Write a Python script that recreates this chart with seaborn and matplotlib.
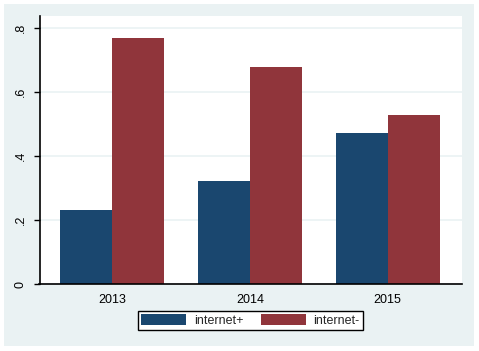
import matplotlib
matplotlib.use("Agg")
import matplotlib.pyplot as plt
import seaborn as sns
import pandas as pd
from matplotlib.patches import Rectangle

years = ["2013", "2014", "2015"]
series = ["internet+", "internet-"]
internet_plus = [0.231, 0.322, 0.472]
internet_minus = [0.769, 0.678, 0.528]
yticks = [0, 0.2, 0.4, 0.6, 0.8]
ytick_labels = ["0", ".2", ".4", ".6", ".8"]

df = pd.DataFrame({
    "year": years * 2,
    "series": [series[0]] * 3 + [series[1]] * 3,
    "value": internet_plus + internet_minus,
})

sns.set_theme(style="white")
plt.rcParams["font.family"] = ["Liberation Sans", "DejaVu Sans"]

W, H = 479, 351
fig = plt.figure(figsize=(W / 100, H / 100), dpi=100, facecolor="white")
bg = Rectangle((4 / W, (H - 346) / H), 470 / W, 342 / H, transform=fig.transFigure,
               facecolor="#EAF2F3", edgecolor="none", zorder=-10)
fig.patches.append(bg)

ax = fig.add_axes([39.5 / W, (H - 284) / H, (462 - 39.5) / W, (284 - 16) / H])
ax.set_facecolor("white")
ax.set_zorder(1)

colors = ["#1A476F", "#90353B"]
sns.barplot(data=df, x="year", y="value", hue="series", palette=colors,
            saturation=1, width=0.756, gap=0, ax=ax, legend=False, linewidth=0)

ax.set_xlim(-0.527, 2.54)
ax.set_ylim(0, 0.8375)
ax.set_yticks(yticks)
ax.set_yticklabels(ytick_labels, rotation=90, va="center", fontsize=9, color="black")
ax.tick_params(axis="y", length=4, width=1, color="black", pad=5, left=True)
ax.tick_params(axis="x", length=0, pad=7, labelsize=9, labelcolor="black")
ax.set_xlabel("")
ax.set_ylabel("")
ax.yaxis.grid(True, color="#EAF2F3", linewidth=1.2)
ax.set_axisbelow(True)
for s in ["top", "right"]:
    ax.spines[s].set_visible(False)
for s in ["left", "bottom"]:
    ax.spines[s].set_color("black")
    ax.spines[s].set_linewidth(1.2)

handles = [Rectangle((0, 0), 1, 1, facecolor=c, edgecolor="none") for c in colors]
leg = fig.legend(handles, series, loc="center", bbox_to_anchor=(250.5 / W, (H - 320.5) / H),
                 ncol=2, frameon=True, fancybox=False, fontsize=9,
                 handlelength=3.6, handleheight=0.95, handletextpad=0.6,
                 columnspacing=1.4, borderpad=0.25, borderaxespad=0)
leg.get_frame().set_edgecolor("black")
leg.get_frame().set_linewidth(1)
leg.get_frame().set_facecolor("white")
leg.get_frame().set_alpha(1)
leg.set_zorder(5)

fig.savefig("out.png", dpi=100, facecolor="white")
